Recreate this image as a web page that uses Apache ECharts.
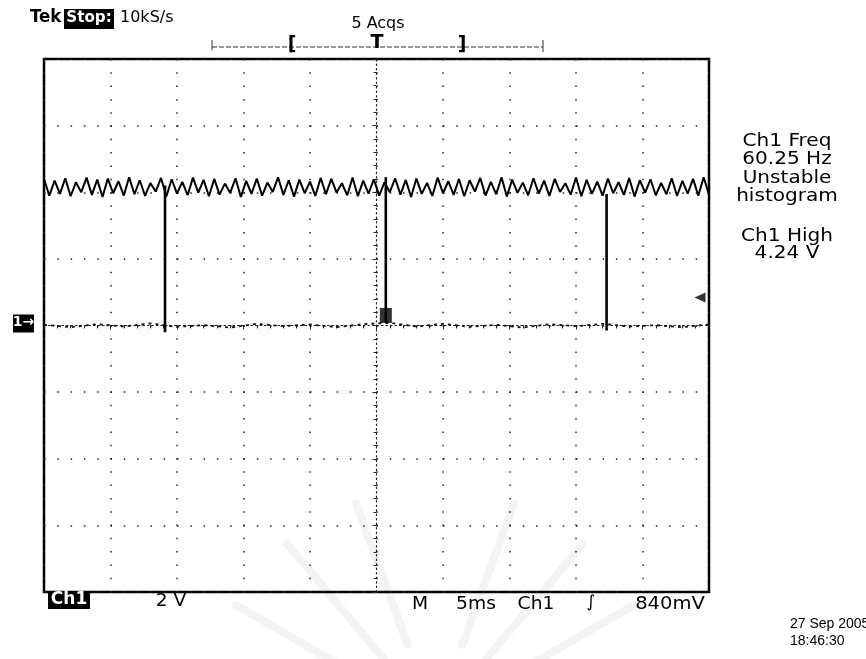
<!DOCTYPE html>
<html>
<head>
<meta charset="utf-8">
<script src="https://cdn.jsdelivr.net/npm/echarts@6/dist/echarts.min.js"></script>
<style>
html,body{margin:0;padding:0;background:#fff;}
#c{width:866px;height:659px;}
</style>
</head>
<body>
<div id="c"></div>
<script>
// ---- data ----
// time axis: 5 ms/div, 10 divisions, trigger at centre
const timeTicks = [-25, -20, -15, -10, -5, 0, 5, 10, 15, 20, 25];
// voltage axis: 2 V/div, 8 divisions, Ch1 ground at centre
const voltTicks = [-8, -6, -4, -2, 0, 2, 4, 6, 8];

// high-level noisy trace (V), sampled every 0.4 ms from -25 ms
const highStartMs = -25;
const highStepMs = 0.4;
const highVals = [
  4.40, 3.90, 4.35, 3.95, 4.42, 3.88, 4.30, 4.00, 4.44, 3.92,
  4.38, 3.86, 4.41, 3.97, 4.33, 3.90, 4.45, 3.94, 4.36, 3.89,
  4.28, 4.02, 4.43, 3.87, 4.39, 3.96, 4.31, 3.91, 4.44, 3.99,
  4.37, 3.88, 4.40, 3.93, 4.26, 3.98, 4.42, 3.86, 4.34, 3.95,
  4.41, 3.90, 4.29, 4.01, 4.45, 3.92, 4.36, 3.87, 4.38, 3.97,
  4.32, 3.89, 4.43, 3.94, 4.40, 3.99, 4.27, 3.91, 4.44, 3.88,
  4.35, 3.96, 4.39, 3.90, 4.30, 4.00, 4.42, 3.93, 4.37, 3.86,
  4.41, 3.95, 4.28, 3.89, 4.44, 3.97, 4.33, 3.92, 4.40, 3.88,
  4.36, 4.02, 4.43, 3.90, 4.31, 3.94, 4.45, 3.87, 4.38, 3.98,
  4.29, 3.91, 4.42, 3.96, 4.35, 3.89, 4.40, 4.01, 4.27, 3.93,
  4.44, 3.88, 4.37, 3.95, 4.32, 3.90, 4.41, 3.97, 4.30, 3.92,
  4.43, 3.87, 4.36, 3.99, 4.39, 3.91, 4.28, 3.94, 4.42, 3.89,
  4.34, 3.96, 4.40, 3.90, 4.45, 3.93
];

// low-level trace (V), sampled every 2 ms from -25 ms
const lowStartMs = -25;
const lowStepMs = 2;
const lowVals = [0.02, -0.05, 0.04, -0.03, 0.06, -0.04, 0.01, -0.06, 0.05, -0.02,
  0.03, -0.05, 0.04, 0.08, -0.03, 0.05, -0.04, 0.02, -0.06, 0.04,
  -0.02, 0.05, -0.03, 0.01, -0.05, 0.03];

// falling edges (ms) with their top / bottom levels (V)
const edgeTimes = [-15.9, 0.7, 17.3];
const edgeTops = [4.2, 4.45, 3.95];
const edgeBottoms = [-0.2, 0.1, -0.15];

const trigTimeMs = 0.7;      // trigger point marker
const trigPointV = 0.3;
const trigLevelV = 0.84;     // 840 mV
const groundV = 0;

// ---- build series ----
const highData = highVals.map((v, i) => [highStartMs + i * highStepMs, v]);
const lowData = lowVals.map((v, i) => [lowStartMs + i * lowStepMs, v]);

const series = [
  {
    type: 'line', data: highData, showSymbol: false, silent: true,
    lineStyle: {color: '#000', width: 2}, z: 5, animation: false
  },
  {
    type: 'line', data: lowData, showSymbol: false, silent: true,
    lineStyle: {color: '#111', width: 1.8, type: [3, 4]}, z: 5, animation: false
  }
];
edgeTimes.forEach((t, i) => {
  series.push({
    type: 'line', data: [[t, edgeTops[i]], [t, edgeBottoms[i]]], showSymbol: false,
    silent: true, lineStyle: {color: '#000', width: 2.6}, z: 6, animation: false
  });
});
series.push({
  type: 'scatter', data: [[trigTimeMs, trigPointV]], symbol: 'rect', symbolSize: [12, 15],
  itemStyle: {color: '#000'}, z: 7, silent: true, animation: false
});
// trigger level arrow on the right edge
series.push({
  type: 'scatter', data: [[25, trigLevelV]], symbol: 'triangle', symbolSize: [10, 11],
  symbolRotate: 90, symbolOffset: [-9, 0], clip: false,
  itemStyle: {color: '#000'}, z: 7, silent: true, animation: false
});

const chart = echarts.init(document.getElementById('c'), null, {renderer: 'canvas'});

const dotted = {color: '#222', width: 1.5, type: [1.5, 11.8]};

function txt(x, y, text, font, opts) {
  const o = opts || {};
  return {
    type: 'text', x: x, y: y, scaleX: o.sx || 1, z: 20,
    style: {text: text, font: font, fill: o.fill || '#000', align: o.align || 'left',
      verticalAlign: 'top', lineHeight: o.lh}
  };
}

// very faint background watermark rays (decorative)
const wm = [];
[30, 50, 70, 110, 130, 150].forEach(a => {
  const r = a * Math.PI / 180;
  wm.push({type: 'line', z: -10, shape: {
      x1: 435 + Math.cos(r) * 80, y1: 720 - Math.sin(r) * 80,
      x2: 435 + Math.cos(r) * 230, y2: 720 - Math.sin(r) * 230},
    style: {stroke: '#f3f3f3', lineWidth: 8, lineCap: 'round'}});
});

const option = {
  backgroundColor: '#fff',
  animation: false,
  grid: {left: 44, top: 59, width: 665, height: 533, show: true,
    borderColor: '#000', borderWidth: 2.5, backgroundColor: 'transparent'},
  xAxis: {
    type: 'value', min: timeTicks[0], max: timeTicks[timeTicks.length - 1], interval: 5,
    axisLine: {show: true, onZero: true, lineStyle: {color: '#222', width: 1.2, type: [1.5, 3]}},
    axisTick: {show: true, length: 4, lineStyle: {color: '#222'}},
    minorTick: {show: true, splitNumber: 5, length: 3, lineStyle: {color: '#222'}},
    axisLabel: {show: false},
    splitLine: {show: true, lineStyle: dotted}
  },
  yAxis: {
    type: 'value', min: voltTicks[0], max: voltTicks[voltTicks.length - 1], interval: 2,
    axisLine: {show: true, onZero: true, lineStyle: {color: '#222', width: 1.2, type: [1.5, 3]}},
    axisTick: {show: true, length: 4, lineStyle: {color: '#222'}},
    minorTick: {show: true, splitNumber: 5, length: 3, lineStyle: {color: '#222'}},
    axisLabel: {show: false},
    splitLine: {show: true, lineStyle: dotted}
  },
  series: series,
  graphic: wm.concat([
    // top-left status
    txt(30, 8, 'Tek', 'bold 18px "DejaVu Sans"', {sx: 0.92}),
    {type: 'rect', z: 19, shape: {x: 64, y: 9, width: 50, height: 20}, style: {fill: '#000'}},
    txt(89, 10, 'Stop:', 'bold 16px "DejaVu Sans"', {fill: '#fff', align: 'center', sx: 0.95}),
    txt(120, 10, '10kS/s', '16px "DejaVu Sans"'),
    txt(378, 16, '5 Acqs', '16px "DejaVu Sans"', {align: 'center'}),
    // record bar
    {type: 'line', shape: {x1: 212, y1: 47, x2: 543, y2: 47}, style: {stroke: '#333', lineWidth: 1, lineDash: [5, 2]}},
    {type: 'line', shape: {x1: 212, y1: 40, x2: 212, y2: 50}, style: {stroke: '#333', lineWidth: 1}},
    {type: 'line', shape: {x1: 543, y1: 40, x2: 543, y2: 52}, style: {stroke: '#333', lineWidth: 1}},
    txt(292, 36, '[', 'bold 19px "DejaVu Sans"', {align: 'center'}),
    txt(462, 36, ']', 'bold 19px "DejaVu Sans"', {align: 'center'}),
    txt(377, 34, 'T', 'bold 19px "DejaVu Sans"', {align: 'center'}),
    // right measurement panel
    txt(787, 132, 'Ch1 Freq\n60.25 Hz\nUnstable\nhistogram', '17px "DejaVu Sans"',
      {align: 'center', lh: 18.5, sx: 1.18}),
    txt(787, 228, 'Ch1 High\n4.24 V', '17px "DejaVu Sans"', {align: 'center', lh: 17, sx: 1.18}),
    // bottom readouts
    {type: 'rect', z: 19, shape: {x: 48, y: 591, width: 42, height: 18}, style: {fill: '#000'}},
    txt(69, 591, 'Ch1', 'bold 17px "DejaVu Sans"', {fill: '#fff', align: 'center'}),
    txt(171, 593, '2 V', '17px "DejaVu Sans"', {align: 'center', sx: 1.1}),
    txt(420, 596, 'M', '17px "DejaVu Sans"', {align: 'center', sx: 1.1}),
    txt(476, 596, '5ms', '17px "DejaVu Sans"', {align: 'center', sx: 1.1}),
    txt(536, 596, 'Ch1', '17px "DejaVu Sans"', {align: 'center', sx: 1.1}),
    txt(591, 594, '∫', 'italic 17px "DejaVu Sans"', {align: 'center'}),
    txt(670, 596, '840mV', '17px "DejaVu Sans"', {align: 'center', sx: 1.15}),
    txt(790, 616, '27 Sep 2005\n18:46:30', '14px "Liberation Sans"', {lh: 17})
  ])
};
chart.setOption(option);

// ground marker on the left edge, placed at the 0 V level of the axis
const gy = chart.convertToPixel({yAxisIndex: 0}, groundV);
chart.setOption({graphic: option.graphic.concat([
  {type: 'rect', z: 19, shape: {x: 13, y: gy - 11, width: 21, height: 18}, style: {fill: '#000'}},
  {type: 'text', z: 20, x: 23.5, y: gy - 10, style: {text: '1→', font: 'bold 14px "DejaVu Sans"',
    fill: '#fff', align: 'center', verticalAlign: 'top'}}
])});
</script>
</body>
</html>
